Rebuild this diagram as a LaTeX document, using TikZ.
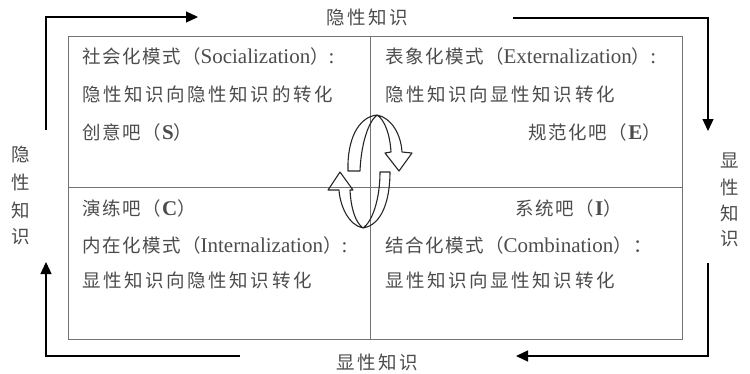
\documentclass[tikz,border=0pt]{standalone}
\usepackage{fontspec}
\setmainfont{Liberation Serif}
\newfontfamily\cjkA[LetterSpace=8]{Noto Sans CJK SC}
\newfontfamily\cjkB[LetterSpace=14]{Noto Sans CJK SC}
\usetikzlibrary{arrows.meta}
\newcommand\zh[1]{{\cjkA\fontsize{18.5}{20}\selectfont #1}}
\newcommand\zhw[1]{{\cjkB\fontsize{18.5}{20}\selectfont #1}}
\newcommand\en[1]{{\fontsize{21}{24}\selectfont #1}}
\definecolor{txt}{gray}{0.3}
\tikzset{
  frame/.style={draw=black!55, line width=0.8pt},
  flow/.style={draw=black, line width=1.3pt, -{Triangle[length=12pt,width=11pt]}},
  cyc/.style={draw=black!85, line width=1.1pt, line join=round},
  lbl/.style={inner sep=0pt, text=txt},
}
\begin{document}
\begin{tikzpicture}[x=1pt,y=-1pt]
\useasboundingbox (0,0) rectangle (750,373);
% frame
\draw[frame] (68,36) rectangle (682,339);
\draw[frame] (370,36) -- (370,339);
\draw[frame] (68,187) -- (682,187);
% outer cycle arrows
\coordinate (a1s) at (46,130); \coordinate (a1c) at (46,17); \coordinate (a1e) at (198,17);
\coordinate (a2s) at (513,18); \coordinate (a2c) at (708,18); \coordinate (a2e) at (708,131);
\coordinate (a3s) at (708,263); \coordinate (a3c) at (708,356); \coordinate (a3e) at (516,356);
\coordinate (a4s) at (240,356); \coordinate (a4c) at (46,356); \coordinate (a4e) at (46,262);
\draw[flow] (a1s) -- (a1c) -- (a1e);
\draw[flow] (a2s) -- (a2c) -- (a2e);
\draw[flow] (a3s) -- (a3c) -- (a3e);
\draw[flow] (a4s) -- (a4c) -- (a4e);
% labels around
\node[lbl] (top) at (367,17) {\zhw{隐性知识}};
\node[lbl] (bot) at (377,362) {\zhw{显性知识}};
\node[lbl] (l1) at (21,155) {\zh{隐}};
\node[lbl] (l2) at (21,182) {\zh{性}};
\node[lbl] (l3) at (21,210) {\zh{知}};
\node[lbl] (l4) at (21,237) {\zh{识}};
\node[lbl] (r1) at (730,160) {\zh{显}};
\node[lbl] (r2) at (730,187) {\zh{性}};
\node[lbl] (r3) at (730,213) {\zh{知}};
\node[lbl] (r4) at (730,239) {\zh{识}};
% cell texts
\node[lbl, anchor=west] (s1) at (82,56) {\zh{社会化模式（}\en{Socialization}\zh{）}\en{:}};
\node[lbl, anchor=west] (s2) at (82,94) {\zhw{隐性知识向隐性知识的转化}};
\node[lbl, anchor=west] (s3) at (82,132) {\zh{创意吧（}\en{\textbf{S}}\zh{）}};
\node[lbl, anchor=west] (e1) at (385,56) {\zh{表象化模式（}\en{Externalization}\zh{）}\en{:}};
\node[lbl, anchor=west] (e2) at (385,94) {\zhw{隐性知识向显性知识转化}};
\node[lbl, anchor=east] (e3) at (661,132) {\zh{规范化吧（}\en{\textbf{E}}\zh{）}};
\node[lbl, anchor=west] (c1) at (82,208) {\zh{演练吧（}\en{\textbf{C}}\zh{）}};
\node[lbl, anchor=west] (c2) at (82,245) {\zh{内在化模式（}\en{Internalization}\zh{）}\en{:}};
\node[lbl, anchor=west] (c3) at (82,280) {\zhw{显性知识向隐性知识转化}};
\node[lbl, anchor=east] (i1) at (622,208) {\zh{系统吧（}\en{\textbf{I}}\zh{）}};
\node[lbl, anchor=west] (i2) at (385,245) {\zh{结合化模式（}\en{Combination}\zh{）：}};
\node[lbl, anchor=west] (i3) at (385,280) {\zhw{显性知识向显性知识转化}};
% central circular arrows
\draw[cyc] (348,171) .. controls (347,140) and (358,117) .. (377,115)
  .. controls (392,118) and (401,135) .. (402,152)
  -- (412,153) -- (399,171) -- (385,153) -- (391,152)
  .. controls (390,135) and (385,120) .. (377,115)
  .. controls (368,122) and (361,145) .. (360,171) -- cycle;
\draw[cyc] (390,172) .. controls (390,200) and (382,225) .. (363,228)
  .. controls (348,225) and (340,205) .. (339,190)
  -- (328,190) -- (340,172) -- (353,190) -- (350,190)
  .. controls (351,208) and (355,222) .. (363,228)
  .. controls (372,222) and (380,200) .. (380,172) -- cycle;
\end{tikzpicture}
\end{document}
